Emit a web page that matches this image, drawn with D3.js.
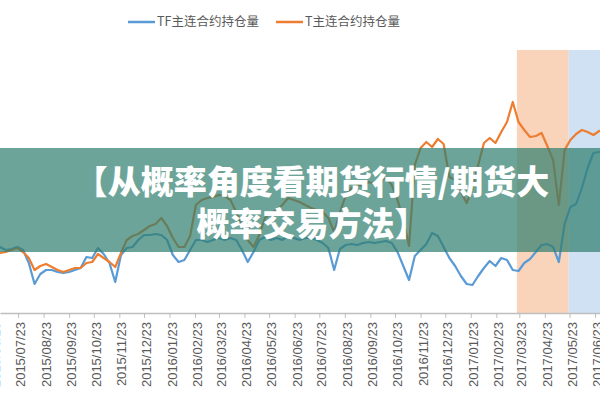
<!DOCTYPE html>
<html><head><meta charset="utf-8">
<script src="https://cdn.jsdelivr.net/npm/d3@7"></script>
<style>body{margin:0;background:#fff;} svg{display:block;}</style>
</head><body>
<svg id="c" width="600" height="400"></svg>
<script>
// weekly sample dates
const dates = [
"2015-07-01","2015-07-08","2015-07-15","2015-07-22","2015-07-29","2015-08-05","2015-08-12","2015-08-19","2015-08-26",
"2015-09-02","2015-09-09","2015-09-16","2015-09-23","2015-09-30","2015-10-07","2015-10-14","2015-10-21","2015-10-28",
"2015-11-04","2015-11-11","2015-11-18","2015-11-25","2015-12-02","2015-12-09","2015-12-16","2015-12-23","2015-12-30",
"2016-01-06","2016-01-13","2016-01-20","2016-01-27","2016-02-03","2016-02-10","2016-02-17","2016-02-24","2016-03-02",
"2016-03-09","2016-03-16","2016-03-23","2016-03-30","2016-04-06","2016-04-13","2016-04-20","2016-04-27","2016-05-04",
"2016-05-11","2016-05-18","2016-05-25","2016-06-01","2016-06-08","2016-06-15","2016-06-22","2016-06-29","2016-07-06",
"2016-07-13","2016-07-20","2016-07-27","2016-08-03","2016-08-10","2016-08-17","2016-08-24","2016-08-31","2016-09-07",
"2016-09-14","2016-09-21","2016-09-28","2016-10-05","2016-10-12","2016-10-19","2016-10-26","2016-11-02","2016-11-09",
"2016-11-16","2016-11-23","2016-11-30","2016-12-07","2016-12-14","2016-12-21","2016-12-28","2017-01-04","2017-01-11",
"2017-01-18","2017-01-25","2017-02-01","2017-02-08","2017-02-15","2017-02-22","2017-03-01","2017-03-08","2017-03-15",
"2017-03-22","2017-03-29","2017-04-05","2017-04-12","2017-04-19","2017-04-26","2017-05-03","2017-05-10","2017-05-17",
"2017-05-24","2017-05-31","2017-06-07","2017-06-14","2017-06-21","2017-06-28"
];
// TF main contract open interest (lots)
const tfHolding = [
46400,45200,45600,46400,45200,40000,31600,35600,37200,
37200,36400,36000,36400,37200,38000,42400,42000,46000,
43600,40000,32400,43200,46000,46400,49200,51200,51200,
51600,51200,49200,43200,40400,41200,45200,49200,49200,
48400,49200,50000,49200,50000,49200,45200,40400,44400,
49200,50400,49200,50000,49200,50800,50000,49200,50000,
50000,49200,48000,46000,37200,45600,47200,47600,47200,
48000,48400,48000,48400,48800,48000,44400,38800,33200,
42800,45200,47600,52000,50800,46400,42000,38800,34800,
31600,31200,34800,38000,40800,38800,42000,41200,37200,
36800,40000,41600,44400,47200,47600,46400,40400,55600,
62400,63600,70000,78000,84000,84400
];
// T main contract open interest (lots)
const tHolding = [
44000,44400,45200,46000,44400,42000,37200,38800,39600,
38400,37200,36400,37200,38000,38000,40000,40400,43600,
42000,40400,38400,44000,49200,50800,51600,53200,54800,
55600,58000,54800,50000,46400,46400,50800,63200,65200,
66000,66400,67200,66800,65200,60400,55200,49200,46400,
51200,58000,60000,61200,63200,66000,65200,64400,63200,
62000,61200,60400,58000,52400,60400,66800,70000,71200,
70800,72400,71600,73200,74000,71200,65200,57200,46800,
79200,86000,88400,86400,89600,87600,74400,73200,68400,
64000,70000,79200,88000,90000,88000,92400,96400,104400,
96400,93200,90400,90800,92000,86800,81200,63200,85200,
89200,91600,93200,92400,91200,92800
];
const seriesNames = ["TF主连合约持仓量", "T主连合约持仓量"];
const tickLabels = [
"2015-06-23","2015-07-23","2015-08-23","2015-09-23","2015-10-23","2015-11-23","2015-12-23",
"2016-01-23","2016-02-23","2016-03-23","2016-04-23","2016-05-23","2016-06-23","2016-07-23",
"2016-08-23","2016-09-23","2016-10-23","2016-11-23","2016-12-23","2017-01-23","2017-02-23",
"2017-03-23","2017-04-23","2017-05-23","2017-06-23"
];
const shadeStarts = ["2017-03-20", "2017-05-22"];
const shadeEnds = ["2017-05-22", "2017-06-29"];
const titleLines = ["【从概率角度看期货行情/期货大", "概率交易方法】"];

const parse = d3.timeParse("%Y-%m-%d");
const fmt = d3.timeFormat("%Y/%m/%d");
const svg = d3.select("#c");
const W = 600, plotTop = 50, plotBottom = 313;

const x = d3.scaleTime().domain([parse("2015-07-01"), parse("2017-06-29")]).range([0, W]);
const y = d3.scaleLinear().domain([20000, 125200]).range([plotBottom, plotTop]);

const shadeColors = ["#f9d4bb", "#cfe1f2"];
svg.append("g").selectAll("rect").data(shadeStarts).join("rect")
  .attr("x", (d) => x(parse(d)))
  .attr("width", (d, i) => x(parse(shadeEnds[i])) - x(parse(d)))
  .attr("y", plotTop).attr("height", plotBottom - plotTop)
  .attr("fill", (d, i) => shadeColors[i]);

// axis
const ax = svg.append("g").attr("transform", `translate(0,${plotBottom})`)
  .call(d3.axisBottom(x).tickValues(tickLabels.map(parse)).tickFormat(fmt).tickSize(5).tickSizeOuter(0));
ax.select(".domain").attr("stroke", "#bfbfbf").attr("stroke-width", 1.5);
ax.selectAll(".tick line").attr("stroke", "#bfbfbf");
ax.selectAll(".tick text")
  .attr("transform", "rotate(-90)")
  .attr("x", -9).attr("y", 0).attr("dy", "0.5em")
  .attr("text-anchor", "end")
  .attr("fill", "#595959")
  .style("font-family", "'Liberation Sans', Arial, sans-serif")
  .style("font-size", "13px");

const parsedDates = dates.map(parse);
const colors = ["#5b9bd5", "#ed7d31"];
const series = [tfHolding, tHolding];
const line = d3.line().x((d, i) => x(parsedDates[i])).y((d) => y(d));
series.forEach((s, i) => {
  svg.append("path").datum(s).attr("d", line)
    .attr("fill", "none").attr("stroke", colors[i]).attr("stroke-width", 2.2)
    .attr("stroke-linejoin", "round").attr("stroke-linecap", "round");
});

// legend
const legX = [128, 276];
const lg = svg.append("g");
seriesNames.forEach((n, i) => {
  lg.append("line").attr("x1", legX[i]).attr("x2", legX[i] + 27).attr("y1", 22).attr("y2", 22)
    .attr("stroke", colors[i]).attr("stroke-width", 2.5);
  lg.append("text").attr("x", legX[i] + 29).attr("y", 22).attr("dy", "0.35em")
    .attr("fill", "#595959")
    .style("font-family", "'Noto Sans CJK SC', sans-serif").style("font-size", "12.5px")
    .text(n);
});

// banner overlay
svg.append("rect").attr("x", 0).attr("y", 148).attr("width", W).attr("height", 104)
  .attr("fill", "rgb(47,125,110)").attr("fill-opacity", 0.7);
const ty = [180, 222];
titleLines.forEach((t, i) => {
  svg.append("text").attr("x", 312).attr("y", ty[i]).attr("dominant-baseline", "central")
    .attr("text-anchor", "middle").attr("fill", "#fff")
    .style("font-family", "'Noto Sans CJK SC', sans-serif").style("font-weight", "900")
    .style("font-size", "33px").text(t);
});
</script>
</body></html>
